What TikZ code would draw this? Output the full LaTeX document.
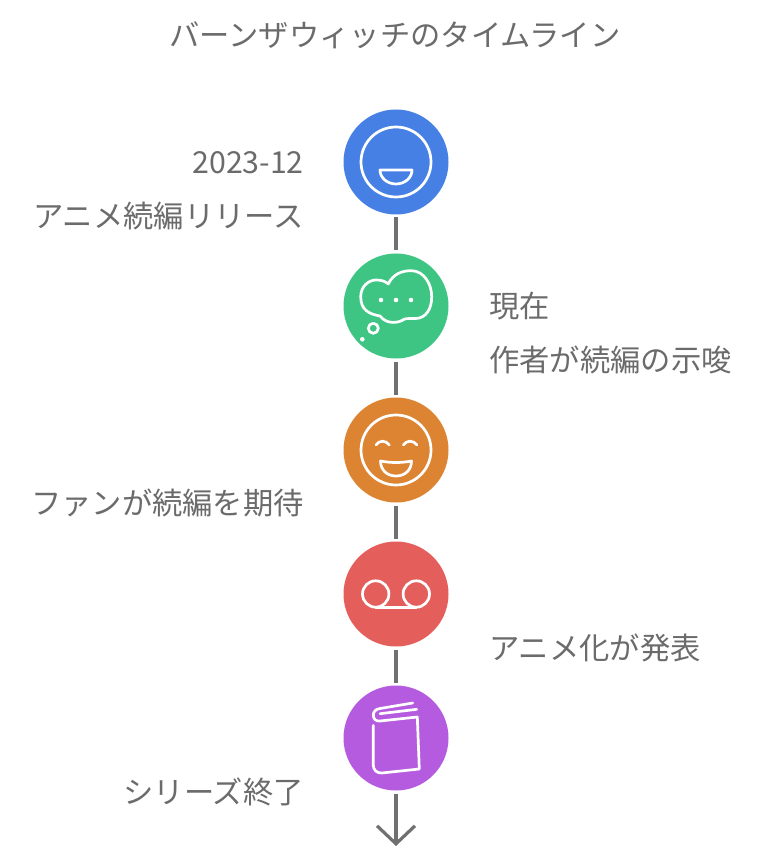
\documentclass[tikz,border=0pt]{standalone}
\usepackage{fontspec}
\setmainfont{Noto Sans CJK JP}
\usetikzlibrary{arrows.meta}
\definecolor{txtgray}{HTML}{6B6B6B}
\definecolor{linegray}{HTML}{707070}
\definecolor{cblue}{HTML}{4680E4}
\definecolor{cgreen}{HTML}{3EC583}
\definecolor{corange}{HTML}{DD8433}
\definecolor{cred}{HTML}{E45F5B}
\definecolor{cpurple}{HTML}{B55BE0}
\tikzset{
	stage/.style={circle,minimum size=105pt,inner sep=0pt,outer sep=3pt},
	label/.style={text=txtgray,font=\fontsize{30.3}{36}\selectfont,inner sep=0pt},
	lbl/.style={label,anchor=east},
	lbr/.style={label,anchor=west},
	link/.style={draw=linegray,line width=3.2pt},
	icon/.style={draw=white,line width=2.7pt,line join=round,line cap=round}
}
\begin{document}
\begin{tikzpicture}[x=1pt,y=-1pt,>={Straight Barb[length=18pt,width=38pt,line width=3.2pt]}]
	\useasboundingbox (0,0) rectangle (756,866);
	\node[label] (title) at (395,35) {バーンザウィッチのタイムライン};
	\node[stage,fill=cblue] (blue) at (396,162) {};
	\node[stage,fill=cgreen] (green) at (396,306) {};
	\node[stage,fill=corange] (orange) at (396,450) {};
	\node[stage,fill=cred] (red) at (396,594) {};
	\node[stage,fill=cpurple] (purple) at (396,738) {};
	\coordinate (end) at (396,846);
	\draw[link] (blue)--(green);
	\draw[link] (green)--(orange);
	\draw[link] (orange)--(red);
	\draw[link] (red)--(purple);
	\draw[link,->] (purple)--(end);
	% labels
	\node[lbl] (date) at (304,163) {2023-12};
	\node[lbl] (sequel) at (304,216) {アニメ続編リリース};
	\node[lbr] (now) at (489,306) {現在};
	\node[lbr] (hint) at (489,360) {作者が続編の示唆};
	\node[lbl] (fans) at (304,503) {ファンが続編を期待};
	\node[lbr] (anime) at (489,648) {アニメ化が発表};
	\node[lbl] (finish) at (304,792) {シリーズ終了};
	% blue face
	\begin{scope}[shift={(blue.center)}]
		\draw[icon] (0,0) circle(35);
		\draw[icon] (-16,8)--(16,8) arc[start angle=0,end angle=180,x radius=16,y radius=14] -- cycle;
	\end{scope}
	% green cloud
	\begin{scope}[shift={(green.center)}]
		\draw[icon] (-7.7,-22) .. controls (-3,-32) and (6,-35.5) .. (15.7,-35.3)
			.. controls (28,-35) and (35.7,-22) .. (35.7,-9.3)
			.. controls (35.7,3) and (30,12) .. (20,12.5)
			.. controls (15,12.8) and (11,12) .. (8,13.3)
			.. controls (3,17) and (-9,19) .. (-16,10)
			.. controls (-27,8) and (-35.3,4) .. (-35.3,-9.3)
			.. controls (-35.3,-20) and (-27,-26) .. (-20,-26)
			.. controls (-15,-26) and (-11,-25) .. cycle;
		\fill[white] (-15,-6) circle(2.3) (0,-6) circle(2.3) (15,-6) circle(2.3) (-33.7,33.3) circle(2.3);
		\draw[icon] (-22.7,22.3) circle(5);
	\end{scope}
	% orange face
	\begin{scope}[shift={(orange.center)}]
		\draw[icon] (0,0) circle(35);
		\draw[icon] (-20,-5) .. controls (-17,-10) and (-10,-10) .. (-6.7,-5);
		\draw[icon] (7.3,-5) .. controls (10.5,-10) and (17.5,-10) .. (21,-5);
		\draw[icon] (-15.5,11) .. controls (-5,13) and (5,13) .. (15.5,11)
			.. controls (15.5,20) and (9,26) .. (0,26)
			.. controls (-9,26) and (-15.5,20) .. cycle;
	\end{scope}
	% red tape
	\begin{scope}[shift={(red.center)}]
		\draw[icon] (-20.3,0) circle(13.2) (20.3,0) circle(13.2);
		\draw[icon] (-20.3,13.2)--(20.3,13.2);
	\end{scope}
	% purple book
	\begin{scope}[shift={(purple.center)}]
		\draw[icon] (-22.7,-12.7)--(-22.7,27.3) .. controls (-22.7,32) and (-19,35.3) .. (-14.3,35)
			--(23.3,31)--(21.3,-21)--(-16,-17) .. controls (-20,-16.5) and (-22.7,-19) .. (-22.7,-23)
			.. controls (-22.7,-26.5) and (-20,-29) .. (-16,-29.5)--(16.7,-35);
		\draw[icon] (20.7,-28.7)--(-16,-24.3);
	\end{scope}
\end{tikzpicture}
\end{document}
